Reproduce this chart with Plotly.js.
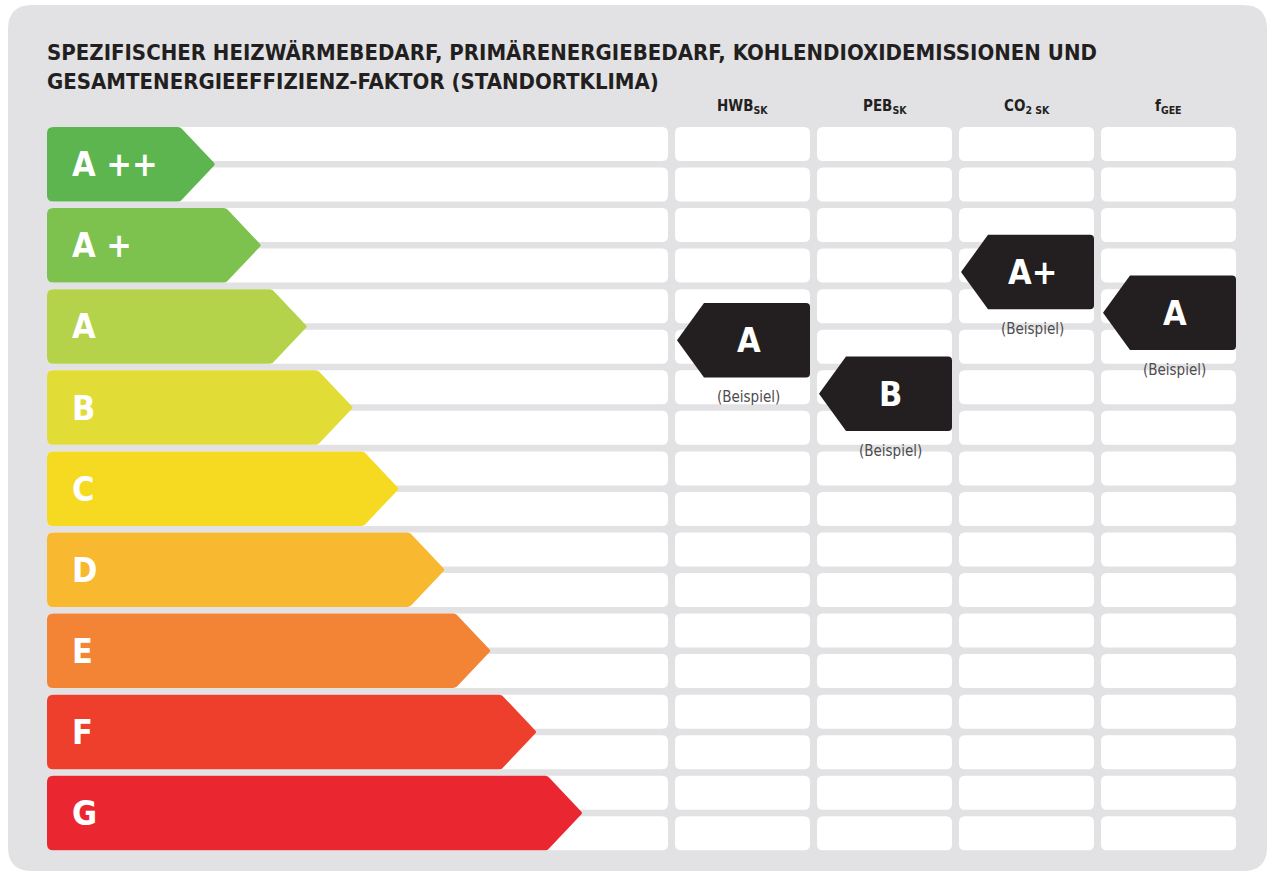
<!DOCTYPE html>
<html><head><meta charset="utf-8">
<script src="https://cdn.plot.ly/plotly-3.0.1.min.js"></script>
<style>html,body{margin:0;padding:0;background:#fff}</style>
</head><body><div id="chart" style="width:1274px;height:876px"></div>
<script>
// ---------- data ----------
const classes = ['A++', 'A+', 'A', 'B', 'C', 'D', 'E', 'F', 'G'];
const classLabels = ['A ++', 'A +', 'A', 'B', 'C', 'D', 'E', 'F', 'G'];
const classColors = ['#5db550', '#7dc14f', '#b4d34b', '#e1dc36', '#f5da21', '#f8b931', '#f38335', '#ee3f2d', '#ea2731'];
const indicators = ['HWB<sub>SK</sub>', 'PEB<sub>SK</sub>', 'CO<sub>2 SK</sub>', 'f<sub>GEE</sub>'];
const exampleRatings = ['A', 'B', 'A+', 'A'];
const examplePositions = [2.17, 2.83, 1.33, 1.83]; // position on the class scale (0 = A++)
const exampleNote = '(Beispiel)';
const titleText = 'SPEZIFISCHER HEIZWÄRMEBEDARF, PRIMÄRENERGIEBEDARF, KOHLENDIOXIDEMISSIONEN UND<br>GESAMTENERGIEEFFIZIENZ-FAKTOR (STANDORTKLIMA)';

// ---------- layout geometry ----------
const W = 1274, H = 876;
const PITCH = 81.1;          // px per class
const Y0 = 164.25;           // px of class 0 centre
const toY = px => (px - Y0) / PITCH;
const HALF = 37.25 / PITCH;
const SUB = 34 / PITCH;
const LEFT_X0 = 47, LEFT_X1 = 668;
const COL_X0 = 675, COL_W = 135, COL_STEP = 142;
const TIP0 = 215, TIP_STEP = 45.9, POINT = 35;
const FONT = '"Liberation Sans Narrow", "DejaVu Sans Condensed", "Arial Narrow", "Open Sans", sans-serif';

function roundRect(x0, x1, y0, y1, r) {
  const ry = r / PITCH;
  return `M${x0 + r},${y0} L${x1 - r},${y0} Q${x1},${y0} ${x1},${y0 + ry} L${x1},${y1 - ry} Q${x1},${y1} ${x1 - r},${y1} ` +
         `L${x0 + r},${y1} Q${x0},${y1} ${x0},${y1 - ry} L${x0},${y0 + ry} Q${x0},${y0} ${x0 + r},${y0} Z`;
}
function classArrow(x0, tip, yc, r) {
  const ry = r / PITCH, yT = yc - HALF, yB = yc + HALF, xb = tip - POINT;
  return `M${x0 + r},${yT} L${xb - 2},${yT} Q${xb + 1},${yT} ${xb + 3},${yT + 3 / PITCH} L${tip - 1},${yc - 1.5 / PITCH} Q${tip + 0.5},${yc} ${tip - 1},${yc + 1.5 / PITCH} ` +
         `L${xb + 3},${yB - 3 / PITCH} Q${xb + 1},${yB} ${xb - 2},${yB} L${x0 + r},${yB} Q${x0},${yB} ${x0},${yB - ry} L${x0},${yT + ry} Q${x0},${yT} ${x0 + r},${yT} Z`;
}
function markerArrow(xl, xr, yc, r) {
  const ry = r / PITCH, yT = yc - HALF, yB = yc + HALF, xb = xl + 27;
  return `M${xb},${yT} L${xr - r},${yT} Q${xr},${yT} ${xr},${yT + ry} L${xr},${yB - ry} Q${xr},${yB} ${xr - r},${yB} ` +
         `L${xb},${yB} L${xl},${yc} Z`;
}

const shapes = [];
const annotations = [];

// grey panel
shapes.push({type: 'path', xref: 'x', yref: 'y', layer: 'below', path: roundRect(8, 1267, toY(5), toY(871), 24),
  fillcolor: '#e2e2e5', line: {width: 0}});

// white rows
classes.forEach((c, k) => {
  [[k - HALF, k - HALF + SUB], [k + HALF - SUB, k + HALF]].forEach(([a, b]) => {
    shapes.push({type: 'path', xref: 'x', yref: 'y', layer: 'below', path: roundRect(LEFT_X0, LEFT_X1, a, b, 6), fillcolor: '#ffffff', line: {width: 0}});
    indicators.forEach((ind, i) => {
      const x0 = COL_X0 + i * COL_STEP;
      shapes.push({type: 'path', xref: 'x', yref: 'y', layer: 'below', path: roundRect(x0, x0 + COL_W, a, b, 6), fillcolor: '#ffffff', line: {width: 0}});
    });
  });
});

// class arrows
classes.forEach((c, k) => {
  shapes.push({type: 'path', xref: 'x', yref: 'y', path: classArrow(LEFT_X0, TIP0 + k * TIP_STEP, k, 6),
    fillcolor: classColors[k], line: {width: 0}});
  annotations.push({x: 70, y: k, xref: 'x', yref: 'y', xanchor: 'left', yanchor: 'middle', showarrow: false,
    text: classLabels[k], font: {family: FONT, size: 34, color: '#ffffff', weight: 700}});
});

// indicator headers and example markers
indicators.forEach((ind, i) => {
  const x0 = COL_X0 + i * COL_STEP, xc = x0 + COL_W / 2;
  annotations.push({x: xc, y: toY(106), xref: 'x', yref: 'y', xanchor: 'center', yanchor: 'middle', showarrow: false,
    text: ind, font: {family: FONT, size: 15, color: '#231f20', weight: 700}});
  const pos = examplePositions[i];
  shapes.push({type: 'path', xref: 'x', yref: 'y', path: markerArrow(x0 + 2, x0 + COL_W, pos, 4),
    fillcolor: '#231f20', line: {width: 0}});
  annotations.push({x: xc + 6, y: pos, xref: 'x', yref: 'y', xanchor: 'center', yanchor: 'middle', showarrow: false,
    text: exampleRatings[i], font: {family: FONT, size: 34, color: '#ffffff', weight: 700}});
  annotations.push({x: xc + 6, y: pos + 57 / PITCH, xref: 'x', yref: 'y', xanchor: 'center', yanchor: 'middle', showarrow: false,
    text: exampleNote, font: {family: FONT, size: 15, color: '#4d4d4d'}});
});

const layout = {
  width: W, height: H,
  margin: {l: 0, r: 0, t: 0, b: 0, pad: 0},
  paper_bgcolor: '#ffffff', plot_bgcolor: 'rgba(0,0,0,0)',
  showlegend: false,
  title: {text: titleText, x: 47 / W, xanchor: 'left', y: 1 - 60 / H, yanchor: 'top',
    font: {family: FONT, size: 22, color: '#231f20', weight: 700}},
  xaxis: {range: [0, W], visible: false, fixedrange: true},
  yaxis: {range: [toY(H), toY(0)], visible: false, fixedrange: true},
  shapes: shapes,
  annotations: annotations
};

Plotly.newPlot('chart', [], layout, {staticPlot: true, displayModeBar: false});
</script>
</body></html>
